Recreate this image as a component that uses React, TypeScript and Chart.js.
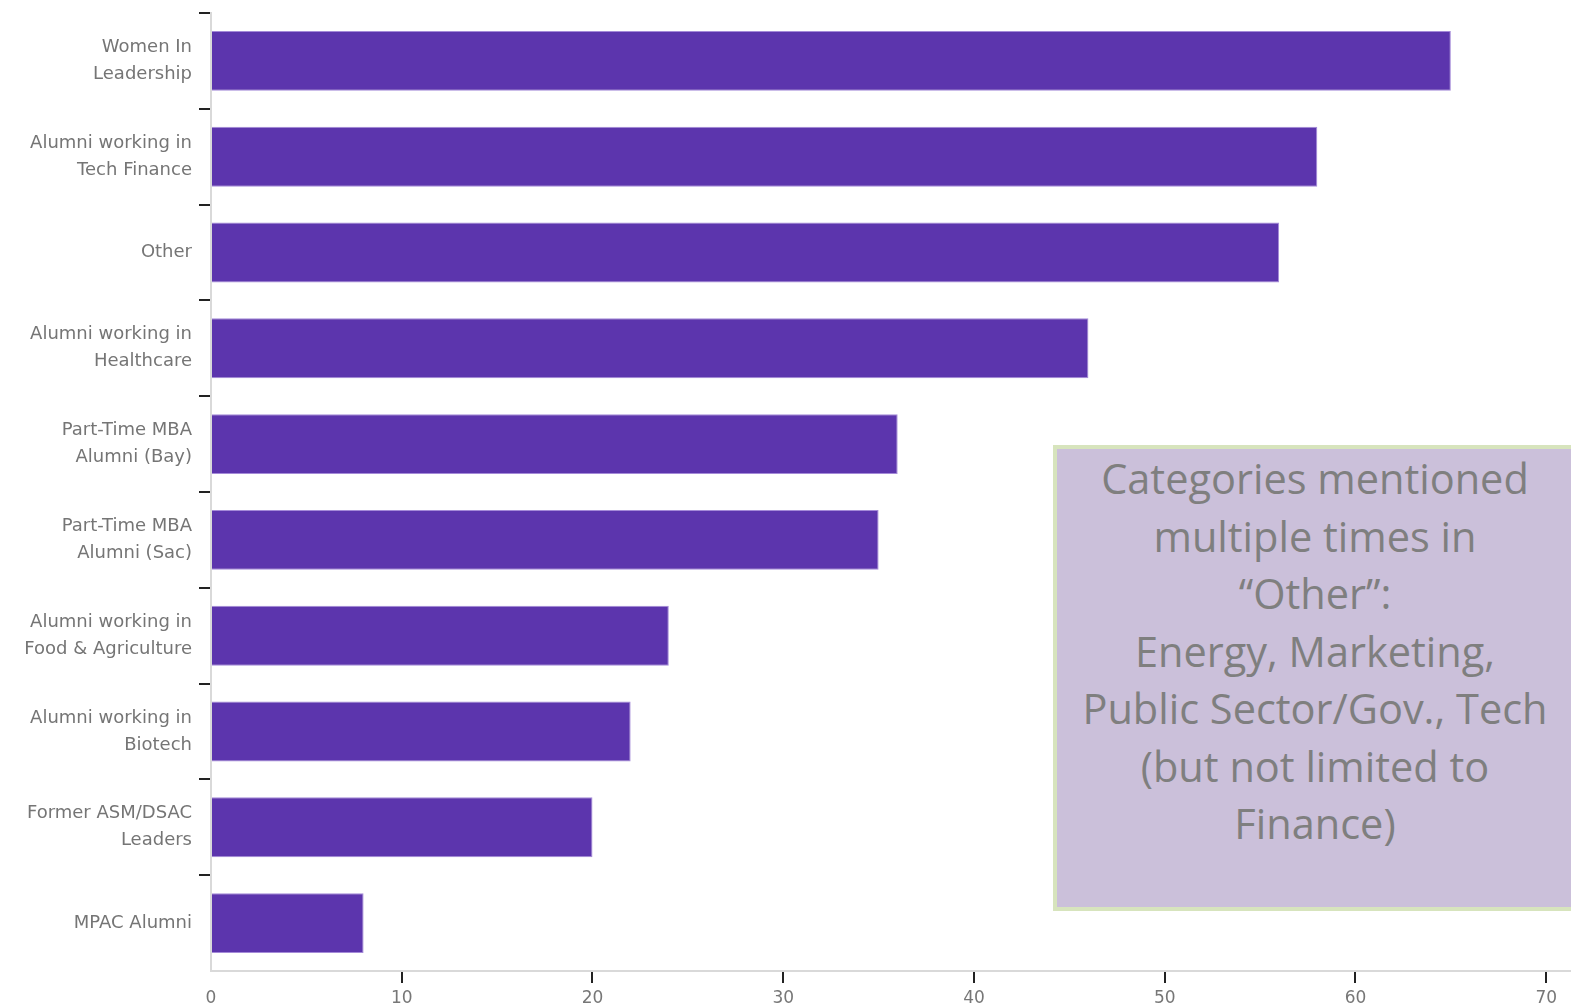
import React, { useEffect, useRef } from "react";
import { Chart, registerables } from "chart.js";

Chart.register(...registerables);

const categories: string[][] = [
  ["Women In", "Leadership"],
  ["Alumni working in", "Tech Finance"],
  ["Other"],
  ["Alumni working in", "Healthcare"],
  ["Part-Time MBA", "Alumni (Bay)"],
  ["Part-Time MBA", "Alumni (Sac)"],
  ["Alumni working in", "Food & Agriculture"],
  ["Alumni working in", "Biotech"],
  ["Former ASM/DSAC", "Leaders"],
  ["MPAC Alumni"],
];

const counts: number[] = [65, 58, 56, 46, 36, 35, 24, 22, 20, 8];

const xTickValues: number[] = [0, 10, 20, 30, 40, 50, 60, 70];

const noteLines: string[] = [
  "Categories mentioned",
  "multiple times in",
  "\u201cOther\u201d:",
  "Energy, Marketing,",
  "Public Sector/Gov., Tech",
  "(but not limited to",
  "Finance)",
];

const LABEL_FONT = "'DejaVu Sans', Inter, sans-serif";
const CLEAR = "rgba(0,0,0,0)";

export default function App() {
  const ref = useRef<HTMLCanvasElement | null>(null);

  useEffect(() => {
    if (!ref.current) return;
    const zeroPad = (scale: any) => {
      scale.paddingTop = 0;
      scale.paddingBottom = 0;
      scale.paddingLeft = 0;
      scale.paddingRight = 0;
    };
    const chart = new Chart(ref.current, {
      type: "bar",
      data: {
        labels: categories,
        datasets: [
          {
            data: counts,
            backgroundColor: "#5c35ad",
            borderColor: "#a48ad8",
            borderWidth: 1,
            barPercentage: 0.625,
            categoryPercentage: 1,
          },
        ],
      },
      options: {
        indexAxis: "y",
        responsive: false,
        animation: false,
        layout: { padding: { top: 13, left: 0, right: 0, bottom: 0 } },
        plugins: { legend: { display: false }, tooltip: { enabled: false } },
        scales: {
          x: {
            min: 0,
            max: 71.3,
            afterBuildTicks: (scale: any) => {
              scale.ticks = xTickValues.map((v) => ({ value: v }));
            },
            afterFit: (scale: any) => {
              scale.height = 36;
              zeroPad(scale);
            },
            border: { display: true, color: "#d9d9d9", width: 2 },
            grid: {
              drawOnChartArea: false,
              drawTicks: true,
              tickLength: 12,
              color: (ctx: any) => (ctx.type !== "tick" || ctx.index === 0 ? CLEAR : "#222"),
              lineWidth: 2,
            },
            ticks: {
              color: "#777",
              font: { family: LABEL_FONT, size: 17, lineHeight: 0.8 },
              padding: 8.7,
            },
          },
          y: {
            afterFit: (scale: any) => {
              scale.width = 211;
              zeroPad(scale);
            },
            border: { display: true, color: "#d9d9d9", width: 2 },
            grid: {
              drawOnChartArea: false,
              drawTicks: true,
              tickLength: 12,
              offset: true,
              lineWidth: 2,
              color: (ctx: any) =>
                ctx.type !== "tick" || ctx.index >= categories.length ? CLEAR : "#222",
            },
            ticks: {
              color: "#757575",
              font: { family: LABEL_FONT, size: 18, lineHeight: 1.5 },
              padding: 7,
            },
          },
        },
      },
    });
    return () => chart.destroy();
  }, []);

  return (
    <div
      style={{
        position: "absolute",
        left: 0,
        top: 0,
        width: 1571,
        height: 1007,
        overflow: "hidden",
        background: "#fff",
      }}
    >
      <canvas ref={ref} width={1571} height={1007} style={{ display: "block" }} />
      <div
        style={{
          position: "absolute",
          left: 1053,
          top: 445,
          width: 524,
          height: 466,
          boxSizing: "border-box",
          border: "4px solid #d7e4bd",
          background: "#cbc0da",
          color: "#7f7f7f",
          fontFamily: "'Open Sans', 'Noto Sans', sans-serif",
          fontSize: 41.5,
          textAlign: "center",
          paddingTop: 1,
        }}
      >
        {noteLines.map((l, i) => (
          <div key={i} style={{ lineHeight: "57.5px", whiteSpace: "nowrap" }}>
            {l}
          </div>
        ))}
      </div>
    </div>
  );
}
